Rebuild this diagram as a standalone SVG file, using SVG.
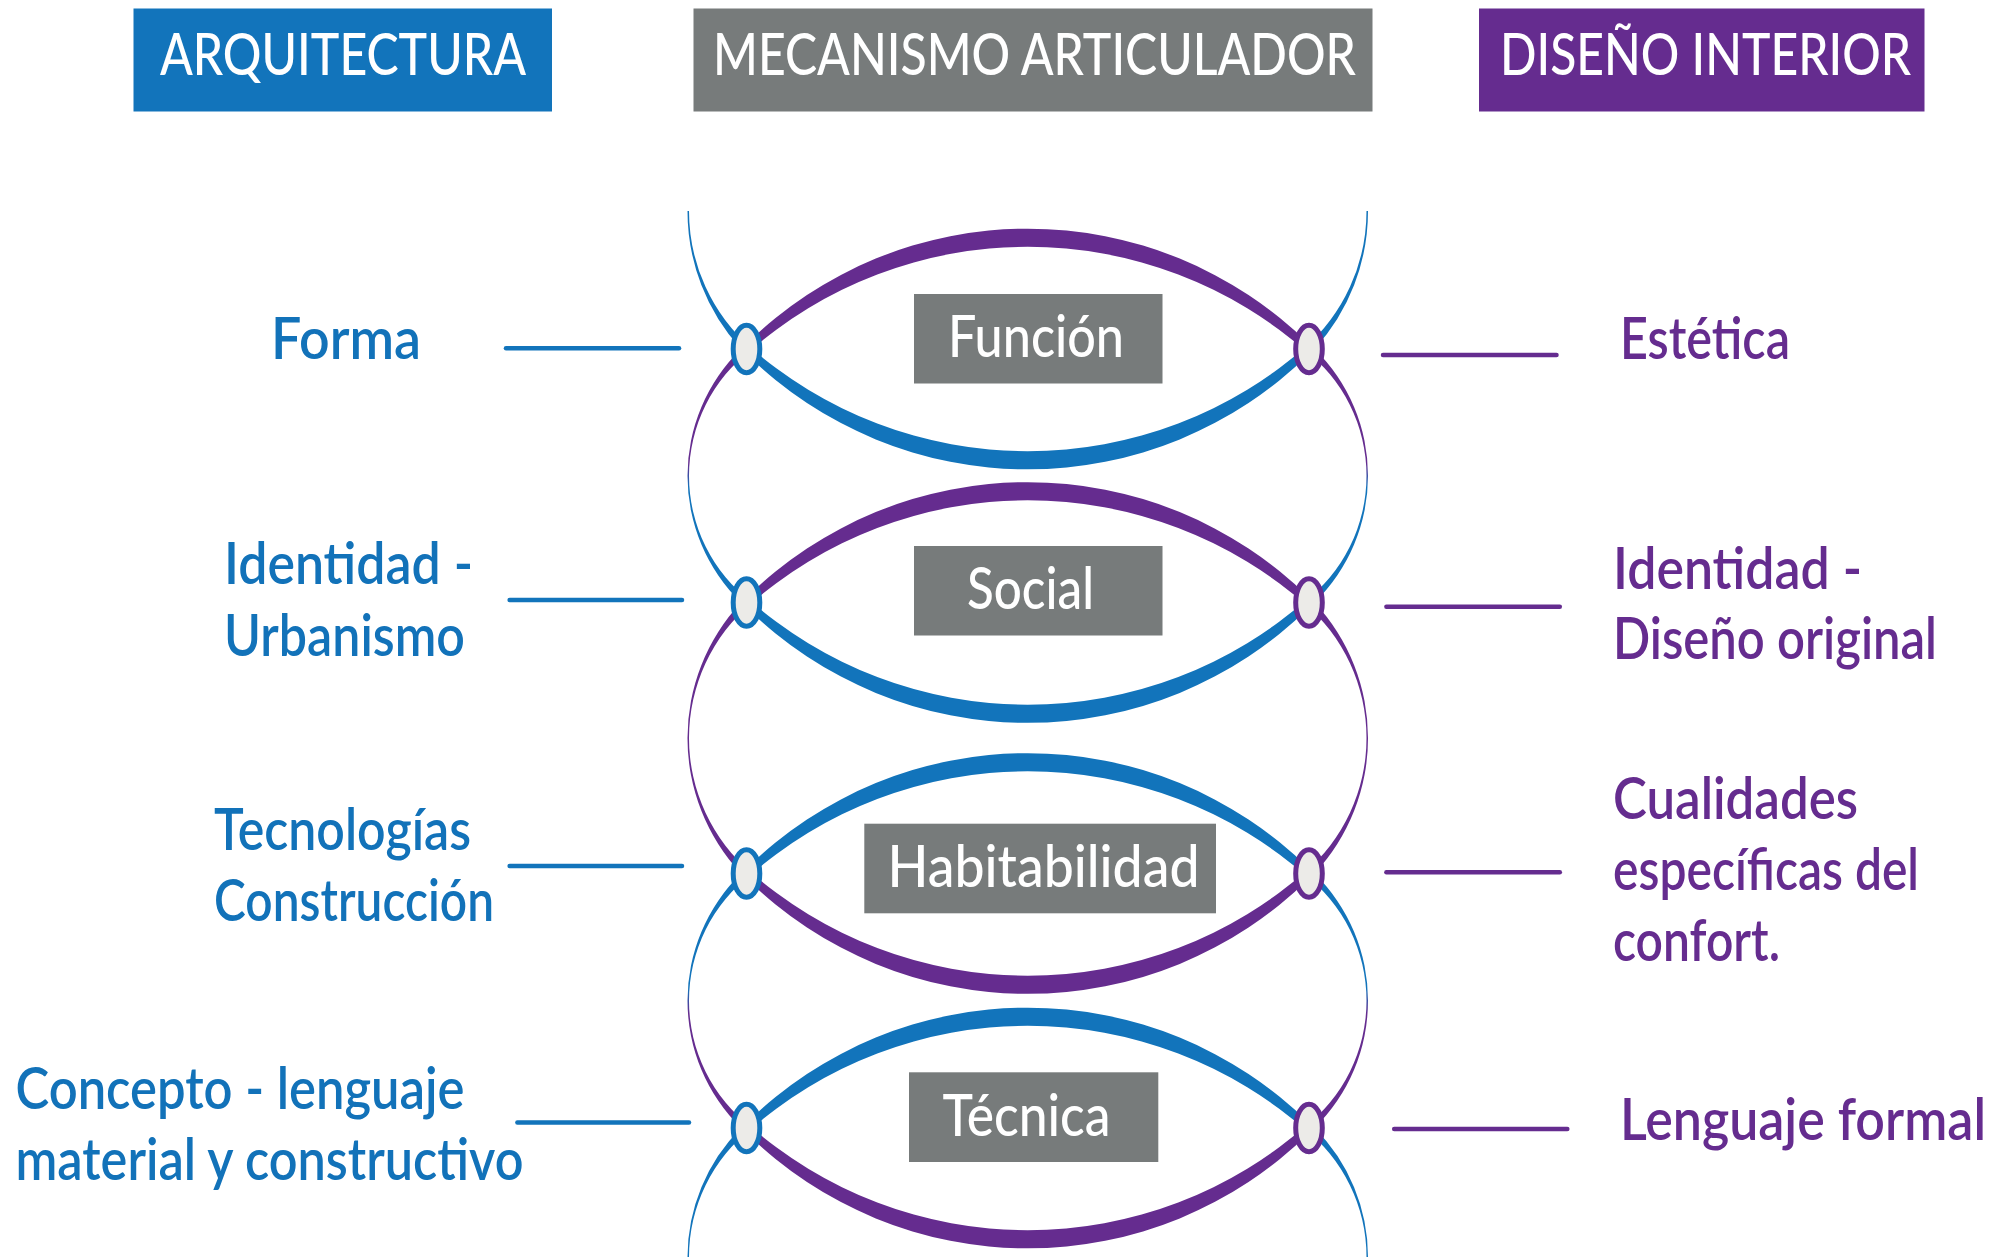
<svg xmlns="http://www.w3.org/2000/svg" xmlns:xlink="http://www.w3.org/1999/xlink" width="2013" height="1260" viewBox="0 0 2013 1260">
<style>
.hdr{font-family:Lato,"Liberation Sans",sans-serif;font-size:58px;font-weight:500;fill:#fff}
.lb{font-family:Lato,"Liberation Sans",sans-serif;font-size:58px;font-weight:600;fill:#1272B9}
.lp{font-family:Lato,"Liberation Sans",sans-serif;font-size:58px;font-weight:600;fill:#652C8F}
.ct{font-family:Lato,"Liberation Sans",sans-serif;font-size:57px;font-weight:500;fill:#fff}
.box{fill:#777B7B}
.node{fill:#ECEBE8;stroke-width:5}
.nb{stroke:#1274BB}
.np{stroke:#652C8F}
.cb{stroke:#1274BB;stroke-width:4.5;stroke-linecap:round;fill:none}
.cp{stroke:#652C8F;stroke-width:4.5;stroke-linecap:round;fill:none}
.fb{fill:#1274BB}
.fp{fill:#652C8F}
</style>
<defs>
<linearGradient id="gPB" x1="0" y1="0" x2="0" y2="1">
<stop offset="0.45" stop-color="#652C8F"/><stop offset="0.55" stop-color="#1274BB"/>
</linearGradient>
<linearGradient id="gBP" x1="0" y1="0" x2="0" y2="1">
<stop offset="0.45" stop-color="#1274BB"/><stop offset="0.55" stop-color="#652C8F"/>
</linearGradient>
</defs>

<g id="headers">
<g id="h-arquitectura"><rect x="133.5" y="8.5" width="418.5" height="103" fill="#1274BB"/><text class="hdr" x="160" y="75" textLength="366" lengthAdjust="spacingAndGlyphs">ARQUITECTURA</text></g>
<g id="h-mecanismo"><rect x="693.5" y="8.5" width="679" height="103" fill="#777B7B"/><text class="hdr" x="713" y="75" textLength="643" lengthAdjust="spacingAndGlyphs">MECANISMO ARTICULADOR</text></g>
<g id="h-diseno"><rect x="1479" y="8.5" width="445.5" height="103" fill="#652C8F"/><text class="hdr" x="1500" y="75" textLength="411" lengthAdjust="spacingAndGlyphs">DISEÑO INTERIOR</text></g>
</g>

<g id="connectors">
<g id="strands-left">
<path fill="#1274BB" d="M687.5,211 A204.7,204.7 0 0 0 741,349 L752,349 A182.6,182.6 0 0 1 689,211 Z"/>
<path fill="url(#gPB)" d="M741,349 A176.9,176.9 0 0 0 741,602.5 L752,602.5 A159,159 0 0 1 752,349 Z"/>
<path fill="#652C8F" d="M741,602.5 A198.3,198.3 0 0 0 741,873.5 L752,873.5 A177.2,177.2 0 0 1 752,602.5 Z"/>
<path fill="url(#gBP)" d="M741,873.5 A178.1,178.1 0 0 0 741,1128 L752,1128 A160,160 0 0 1 752,873.5 Z"/>
<path fill="#1274BB" d="M741,1128 A182.3,182.3 0 0 0 687.5,1257 L689,1257 A163.6,163.6 0 0 1 752,1128 Z"/>
</g>
<use id="strands-right" xlink:href="#strands-left" href="#strands-left" transform="matrix(-1 0 0 1 2055.5 0)"/>

<g id="lenses">
<path class="fp" d="M746.5,344 A400.6,400.6 0 0 1 1309,344 L1309,354 A422.5,422.5 0 0 0 746.5,354 Z"/>
<path class="fb" d="M746.5,354 A400.6,400.6 0 0 0 1309,354 L1309,344 A422.5,422.5 0 0 1 746.5,344 Z"/>
<path class="fp" d="M746.5,597.5 A400.6,400.6 0 0 1 1309,597.5 L1309,607.5 A422.5,422.5 0 0 0 746.5,607.5 Z"/>
<path class="fb" d="M746.5,607.5 A400.6,400.6 0 0 0 1309,607.5 L1309,597.5 A422.5,422.5 0 0 1 746.5,597.5 Z"/>
<path class="fb" d="M746.5,868.5 A400.6,400.6 0 0 1 1309,868.5 L1309,878.5 A422.5,422.5 0 0 0 746.5,878.5 Z"/>
<path class="fp" d="M746.5,878.5 A400.6,400.6 0 0 0 1309,878.5 L1309,868.5 A422.5,422.5 0 0 1 746.5,868.5 Z"/>
<path class="fb" d="M746.5,1123 A400.6,400.6 0 0 1 1309,1123 L1309,1133 A422.5,422.5 0 0 0 746.5,1133 Z"/>
<path class="fp" d="M746.5,1133 A400.6,400.6 0 0 0 1309,1133 L1309,1123 A422.5,422.5 0 0 1 746.5,1123 Z"/>
</g>

<g id="links">
<line class="cb" x1="506" y1="348.3" x2="679" y2="348.3"/>
<line class="cb" x1="509.6" y1="600" x2="682" y2="600"/>
<line class="cb" x1="509.6" y1="866" x2="682" y2="866"/>
<line class="cb" x1="517.4" y1="1122.5" x2="689" y2="1122.5"/>
<line class="cp" x1="1383" y1="355" x2="1556.5" y2="355"/>
<line class="cp" x1="1386.4" y1="606.7" x2="1559.8" y2="606.7"/>
<line class="cp" x1="1386.4" y1="872.3" x2="1559.8" y2="872.3"/>
<line class="cp" x1="1394.2" y1="1129" x2="1567.3" y2="1129"/>
</g>
</g>

<g id="node-l1"><ellipse class="node nb" cx="746.5" cy="349" rx="13.3" ry="23.8"/></g>
<g id="node-l2"><ellipse class="node nb" cx="746.5" cy="602.5" rx="13.3" ry="23.8"/></g>
<g id="node-l3"><ellipse class="node nb" cx="746.5" cy="873.5" rx="13.3" ry="23.8"/></g>
<g id="node-l4"><ellipse class="node nb" cx="746.5" cy="1128" rx="13.3" ry="23.8"/></g>
<g id="node-r1"><ellipse class="node np" cx="1309" cy="349" rx="13.3" ry="23.8"/></g>
<g id="node-r2"><ellipse class="node np" cx="1309" cy="602.5" rx="13.3" ry="23.8"/></g>
<g id="node-r3"><ellipse class="node np" cx="1309" cy="873.5" rx="13.3" ry="23.8"/></g>
<g id="node-r4"><ellipse class="node np" cx="1309" cy="1128" rx="13.3" ry="23.8"/></g>

<g id="c-funcion"><rect class="box" x="914" y="294" width="248.5" height="89.5"/><text class="ct" x="948" y="356.7" textLength="176" lengthAdjust="spacingAndGlyphs">Función</text></g>
<g id="c-social"><rect class="box" x="914" y="546" width="248.5" height="89.5"/><text class="ct" x="967" y="609.3" textLength="127" lengthAdjust="spacingAndGlyphs">Social</text></g>
<g id="c-habitabilidad"><rect class="box" x="864.3" y="823.7" width="351.7" height="89.6"/><text class="ct" x="887.5" y="886.7" textLength="312" lengthAdjust="spacingAndGlyphs">Habitabilidad</text></g>
<g id="c-tecnica"><rect class="box" x="909" y="1072.3" width="249.3" height="89.7"/><text class="ct" x="942.5" y="1135.7" textLength="168" lengthAdjust="spacingAndGlyphs">Técnica</text></g>

<g id="l-forma"><text class="lb" x="271" y="359" textLength="150" lengthAdjust="spacingAndGlyphs">Forma</text></g>
<g id="l-identidad"><text class="lb" x="224" y="583.5" textLength="249" lengthAdjust="spacingAndGlyphs">Identidad -</text><text class="lb" x="224" y="655.5" textLength="241" lengthAdjust="spacingAndGlyphs">Urbanismo</text></g>
<g id="l-tecnologias"><text class="lb" x="214" y="849.5" textLength="257" lengthAdjust="spacingAndGlyphs">Tecnologías</text><text class="lb" x="214" y="920.5" textLength="280" lengthAdjust="spacingAndGlyphs">Construcción</text></g>
<g id="l-concepto"><text class="lb" x="15.5" y="1109" textLength="449" lengthAdjust="spacingAndGlyphs">Concepto - lenguaje</text><text class="lb" x="15.5" y="1180" textLength="508" lengthAdjust="spacingAndGlyphs">material y constructivo</text></g>

<g id="r-estetica"><text class="lp" x="1620" y="359" textLength="170" lengthAdjust="spacingAndGlyphs">Estética</text></g>
<g id="r-identidad"><text class="lp" x="1613" y="588.5" textLength="249" lengthAdjust="spacingAndGlyphs">Identidad -</text><text class="lp" x="1613" y="659" textLength="324" lengthAdjust="spacingAndGlyphs">Diseño original</text></g>
<g id="r-cualidades"><text class="lp" x="1613" y="819" textLength="245" lengthAdjust="spacingAndGlyphs">Cualidades</text><text class="lp" x="1613" y="890" textLength="306" lengthAdjust="spacingAndGlyphs">específicas del</text><text class="lp" x="1613" y="961" textLength="167" lengthAdjust="spacingAndGlyphs">confort.</text></g>
<g id="r-lenguaje"><text class="lp" x="1620" y="1140" textLength="366" lengthAdjust="spacingAndGlyphs">Lenguaje formal</text></g>
</svg>
